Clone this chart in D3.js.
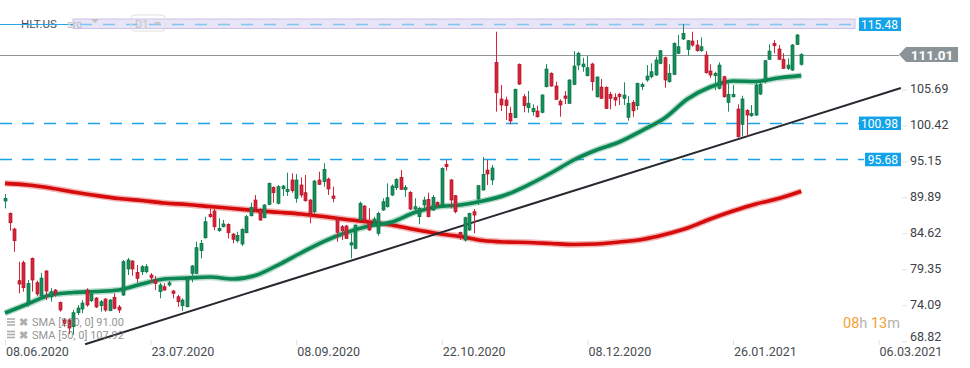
<!DOCTYPE html>
<html>
<head>
<meta charset="utf-8">
<script src="https://cdnjs.cloudflare.com/ajax/libs/d3/7.8.5/d3.min.js"></script>
<style>
  body { margin: 0; background: #fff; overflow: hidden; }
  text { font-family: Roboto, "Noto Sans", sans-serif; }
</style>
</head>
<body>
<div id="chart"></div>
<script>
// daily bars, HLT.US, 08.06.2020 -> 17.02.2021 (bar index 0..175)
var opens = [89.56,87.76,85.46,77.90,80.53,74.59,81.17,77.60,75.66,79.32,75.55,76.53,74.73,72.14,72.14,71.16,73.21,73.75,76.53,74.97,
  75.36,74.24,75.22,73.50,75.47,74.05,75.80,79.61,80.78,79.12,79.21,79.21,78.73,78.00,76.29,77.02,77.27,76.39,75.55,74.24,
  74.09,78.98,78.98,82.29,84.19,87.62,88.10,85.22,85.80,86.15,84.73,83.75,83.27,84.92,87.41,89.71,88.35,87.12,89.08,91.57,
  89.23,91.36,90.92,92.64,89.96,91.91,90.78,89.71,88.00,92.64,92.39,92.78,90.30,86.93,85.80,85.90,83.12,82.64,86.78,88.83,
  86.45,86.45,84.83,88.25,88.73,90.44,91.51,93.03,91.22,90.84,88.39,87.27,88.98,89.81,88.25,89.37,88.98,94.94,92.64,90.34,
  84.98,83.85,85.32,88.00,89.86,91.17,94.10,92.64,109.87,104.50,104.35,102.40,101.76,109.58,104.83,103.22,102.64,102.74,102.55,106.30,
  108.26,106.40,104.20,104.94,103.87,106.65,109.47,109.22,107.91,109.62,104.83,106.25,106.21,105.18,104.75,105.18,104.60,101.82,104.01,103.52,
  106.30,107.28,107.76,108.01,109.72,110.54,107.03,108.11,111.19,113.28,111.77,112.99,112.40,111.57,110.94,108.60,107.91,106.06,107.76,104.01,
  104.83,103.03,100.79,102.84,102.05,102.15,105.23,107.03,110.31,112.65,111.82,110.31,108.99,108.74,112.50,109.58];
var highs = [90.59,87.90,85.65,80.68,80.82,78.00,81.30,77.90,79.02,79.45,76.83,76.68,74.85,72.39,72.30,73.61,74.34,75.07,76.78,76.24,
  75.50,75.07,75.32,75.22,76.05,74.34,80.93,81.22,80.90,80.19,80.19,80.34,79.02,78.58,77.56,77.51,77.85,76.53,75.80,75.32,
  78.48,80.19,83.61,83.85,87.27,88.49,88.49,87.03,86.78,86.30,84.85,85.07,85.57,87.51,89.32,90.44,88.49,89.10,92.24,91.70,
  91.91,91.91,93.71,93.62,93.52,93.03,93.37,89.85,92.64,93.85,95.08,93.00,91.66,87.10,86.05,86.05,84.83,86.10,89.46,88.95,
  88.49,87.27,88.00,89.96,92.15,92.01,92.89,94.10,91.91,91.00,89.96,88.73,90.19,90.78,90.44,89.50,94.50,95.57,92.80,90.44,
  85.07,87.27,87.85,88.39,91.91,96.00,95.57,94.83,114.35,106.55,104.83,103.37,106.00,109.70,105.23,105.67,103.72,103.52,105.20,109.62,
  108.40,107.03,104.45,105.67,107.40,111.52,111.42,110.54,110.79,109.81,107.80,107.42,106.35,105.56,105.33,105.42,106.94,104.94,104.35,106.90,
  106.94,109.47,109.72,110.69,111.67,110.70,109.58,112.80,113.87,115.48,113.13,114.35,113.13,113.53,111.52,109.58,108.49,109.87,107.90,106.79,
  106.55,103.72,104.98,103.00,103.62,106.94,106.94,110.21,112.50,113.13,112.40,111.19,110.45,112.55,114.01,111.20];
var lows = [88.49,85.22,82.14,76.05,76.29,74.09,76.29,75.66,75.55,75.07,74.82,75.55,73.36,71.16,70.09,69.95,72.87,73.12,74.09,74.78,
  73.90,73.36,73.36,73.46,73.70,73.17,75.66,78.73,78.63,77.60,78.73,78.98,77.56,76.53,75.32,76.43,77.02,75.32,74.09,73.46,
  74.00,77.66,78.88,81.17,84.05,87.10,85.32,85.07,85.71,84.10,83.37,83.46,82.98,84.83,87.30,88.00,86.68,87.03,88.95,89.32,
  89.08,90.30,90.30,90.78,89.32,90.05,89.46,86.30,87.76,91.91,91.66,90.44,89.37,83.61,83.85,84.00,81.17,82.50,86.64,86.53,
  85.17,85.80,84.48,88.10,88.60,90.30,91.17,91.17,90.19,88.25,88.00,86.15,88.49,87.18,88.10,88.58,88.88,94.00,88.49,87.76,
  83.85,83.61,85.17,84.83,88.98,91.10,91.91,91.91,102.64,102.74,101.42,100.79,101.70,106.55,102.55,102.49,102.05,101.76,102.40,106.20,
  106.30,104.35,101.90,103.76,103.76,106.50,108.74,108.49,107.80,105.71,104.70,104.50,103.03,102.99,103.47,103.62,103.62,101.32,101.90,102.89,
  105.81,107.03,107.53,107.90,109.58,106.15,106.90,108.00,111.08,113.13,110.84,112.15,111.42,111.42,108.20,107.61,105.81,105.90,104.69,102.64,
  104.70,98.85,98.98,98.98,101.90,102.00,105.08,106.79,110.20,111.19,110.21,108.89,108.74,108.60,112.40,109.40];
var closes = [89.96,86.39,83.75,77.41,76.87,77.51,78.00,75.95,78.29,76.39,76.29,76.05,73.61,71.66,70.97,73.21,73.90,74.63,74.34,75.95,
  74.05,74.82,73.61,75.07,73.85,73.61,80.68,80.93,79.61,78.25,79.95,79.95,78.39,77.51,77.27,76.53,77.60,76.05,74.82,75.07,
  78.34,80.05,82.73,83.37,86.53,87.27,85.80,85.57,86.20,84.92,83.96,84.54,85.42,87.27,88.64,88.25,86.78,88.98,92.16,90.78,
  91.66,91.76,91.28,91.07,92.64,90.44,89.61,87.76,92.49,92.01,94.20,91.32,89.96,84.98,85.22,84.10,83.46,86.05,89.23,86.78,
  85.32,86.93,87.76,89.46,90.05,91.76,92.74,91.28,91.57,88.39,88.73,88.49,89.71,87.27,90.10,88.98,94.35,94.59,89.71,88.00,
  84.34,87.12,87.76,87.51,91.81,93.47,93.52,94.40,105.42,103.62,103.52,101.28,105.92,106.69,103.52,103.87,103.13,101.90,105.08,108.89,
  106.40,104.45,103.62,104.60,107.28,109.33,111.19,109.62,109.08,107.03,107.72,104.60,103.13,104.60,104.35,104.83,105.08,103.87,102.78,106.79,
  106.65,107.86,108.49,110.21,111.57,107.28,108.26,112.65,112.15,114.11,113.03,112.40,111.57,112.15,108.35,108.01,108.26,109.47,104.83,105.18,
  105.18,98.98,104.50,102.15,102.40,106.55,106.65,110.11,111.52,112.30,110.31,108.99,109.47,112.40,113.87,111.01];

// moving averages, read every 5th bar
var smaStep = 5;
var sma200 = [92.15,91.91,91.47,90.88,90.37,89.93,89.64,89.27,89.05,88.76,88.47,88.17,87.91,87.66,87.29,86.86,86.49,86.05,
  85.39,84.81,84.37,83.78,83.56,83.49,83.34,83.20,83.27,83.56,83.93,84.66,85.61,86.93,88.10,89.12,89.93,91.00];
var sma50 = [73.17,74.49,75.80,76.17,76.31,76.53,77.41,78.14,78.29,78.44,78.14,78.66,80.19,81.95,83.63,84.95,85.90,86.49,
  87.88,88.73,88.98,89.56,90.44,91.91,93.66,95.57,97.03,98.20,99.88,101.71,104.50,106.25,107.13,107.06,107.57,107.92];

var trendBars = [17.6, 196.9];
var trendValues = [68.6, 106.1];

var levelValues = [115.48, 100.98, 95.68];
var lastPrice = 111.01;
var priceTicks = [105.69, 100.42, 95.15, 89.89, 84.62, 79.35, 74.09, 68.82];
var dateTickBars = [0, 32, 64, 96, 128, 160, 192];
var dateTickLabels = ["08.06.2020", "23.07.2020", "08.09.2020", "22.10.2020", "08.12.2020", "26.01.2021", "06.03.2021"];

var width = 970, height = 368;
var bars = opens.map(function(o, i) {
  return { i: i, o: o, h: highs[i], l: lows[i], c: closes[i] };
});

var x = d3.scaleLinear().domain([0, 192]).range([5, 878.6]);
var y = d3.scaleLinear().domain([68.82, 115.48]).range([342.7, 24]);

var svg = d3.select("#chart").append("svg")
  .attr("width", width)
  .attr("height", height);

// max marker band at the top
svg.append("rect")
  .attr("x", 73).attr("y", y(115.48) - 5)
  .attr("width", 782).attr("height", 9.5)
  .attr("fill", "#e9e4f6")
  .attr("stroke", "#cbc1ea");

// last price line
svg.append("line")
  .attr("x1", 0).attr("x2", 899)
  .attr("y1", Math.round(y(lastPrice)) + 0.5).attr("y2", Math.round(y(lastPrice)) + 0.5)
  .attr("stroke", "#8d959a").attr("stroke-width", 1.2);

// dashed levels
levelValues.forEach(function(v, k) {
  var yy = Math.round(y(v)) + 0.5;
  if (k == 0) {
    svg.append("line").attr("x1", 0).attr("x2", 73).attr("y1", yy).attr("y2", yy)
      .attr("stroke", "#2aa6e6").attr("stroke-width", 1.2);
    svg.append("line").attr("x1", 80).attr("x2", 858).attr("y1", yy).attr("y2", yy)
      .attr("stroke", "#7fc6f0").attr("stroke-width", 1.5).attr("stroke-dasharray", "12,11");
  } else {
    svg.append("line").attr("x1", 0).attr("x2", 864).attr("y1", yy).attr("y2", yy)
      .attr("stroke", "#1ea3ea").attr("stroke-width", 1.5).attr("stroke-dasharray", "12,10");
  }
});

// moving averages
var smaLine = d3.line()
  .x(function(d, k) { return x(k * smaStep); })
  .y(function(d) { return y(d); })
  .curve(d3.curveMonotoneX);

[[sma200, "#d60b0b"], [sma50, "#0b8753"]].forEach(function(s) {
  svg.append("path").attr("d", smaLine(s[0]))
    .attr("fill", "none").attr("stroke", s[1]).attr("stroke-opacity", 0.3)
    .attr("stroke-width", 6.5);
  svg.append("path").attr("d", smaLine(s[0]))
    .attr("fill", "none").attr("stroke", s[1]).attr("stroke-width", 3.6);
});

// trend line
svg.append("line")
  .attr("x1", x(trendBars[0])).attr("y1", y(trendValues[0]))
  .attr("x2", x(trendBars[1])).attr("y2", y(trendValues[1]))
  .attr("stroke", "#262a30").attr("stroke-width", 2);

// candles
var up = "#15905c", upDark = "#0c6f45", down = "#dc2238", downDark = "#a9172a";
var candle = svg.append("g").selectAll("g").data(bars).enter().append("g");

candle.append("line")
  .attr("x1", function(d) { return Math.round(x(d.i)) + 0.5; })
  .attr("x2", function(d) { return Math.round(x(d.i)) + 0.5; })
  .attr("y1", function(d) { return y(d.h); })
  .attr("y2", function(d) { return y(d.l); })
  .attr("stroke", function(d) { return d.c >= d.o ? up : down; })
  .attr("stroke-width", 1);

candle.append("rect")
  .attr("x", function(d) { return Math.round(x(d.i)) - 1; })
  .attr("y", function(d) { return y(Math.max(d.o, d.c)); })
  .attr("width", 3)
  .attr("height", function(d) { return Math.max(1.5, Math.abs(y(d.o) - y(d.c))); })
  .attr("fill", function(d) { return d.c >= d.o ? up : down; })
  .attr("stroke", function(d) { return d.c >= d.o ? upDark : downDark; })
  .attr("stroke-width", 0.7);

// price axis
priceTicks.forEach(function(v) {
  var yy = Math.min(y(v), 338.5);
  svg.append("line").attr("x1", 902).attr("x2", 907).attr("y1", y(v) - 1).attr("y2", y(v) - 1)
    .attr("stroke", "#e2e2e2");
  svg.append("text").attr("x", 910).attr("y", yy + 2.5)
    .attr("font-size", 12.5).attr("fill", "#3d4247").text(v.toFixed(2));
});

// level labels
levelValues.forEach(function(v) {
  var w = v >= 100 ? 42 : 36;
  svg.append("rect").attr("x", 901 - w).attr("y", y(v) - 6.5)
    .attr("width", w).attr("height", 13.5).attr("fill", "#13a3ea");
  svg.append("text").attr("x", 898).attr("y", y(v) + 4.5)
    .attr("text-anchor", "end").attr("font-size", 12).attr("fill", "#fff")
    .text(v.toFixed(2));
});

// last price tag
var ly = y(lastPrice);
svg.append("path")
  .attr("d", "M899," + ly + "L906," + (ly - 7.5) + "L958," + (ly - 7.5) + "L958," + (ly + 7.5) + "L906," + (ly + 7.5) + "Z")
  .attr("fill", "#8a9397");
svg.append("text").attr("x", 932).attr("y", ly + 5)
  .attr("text-anchor", "middle").attr("font-size", 13.5).attr("font-weight", "bold")
  .attr("fill", "#fff").text(lastPrice.toFixed(2));

// date axis
dateTickBars.forEach(function(b, k) {
  svg.append("line").attr("x1", x(b) + 0.5).attr("x2", x(b) + 0.5).attr("y1", 340).attr("y2", 345)
    .attr("stroke", "#e0e0e0");
  svg.append("text").attr("x", x(b) + 1).attr("y", 355.5)
    .attr("font-size", 12.5).attr("fill", "#474c51").text(dateTickLabels[k]);
});

// countdown
var cd = svg.append("text").attr("x", 843).attr("y", 328).attr("font-size", 14.5);
cd.append("tspan").attr("fill", "#f6a132").text("08");
cd.append("tspan").attr("fill", "#b3b3b3").text("h ");
cd.append("tspan").attr("fill", "#f6a132").text("13");
cd.append("tspan").attr("fill", "#b3b3b3").text("m");

// legend
var legendRows = ["SMA [200, 0] 91.00", "SMA [50, 0] 107.92"];
legendRows.forEach(function(t, k) {
  var yy = 322 + k * 12.5;
  var g = svg.append("g").attr("opacity", 0.8);
  [-3, 0, 3].forEach(function(dy) {
    g.append("line").attr("x1", 7).attr("x2", 15).attr("y1", yy + dy).attr("y2", yy + dy)
      .attr("stroke", "#9a9a9a").attr("stroke-width", 1.6);
  });
  g.append("text").attr("x", 19).attr("y", yy + 4).attr("font-size", 10.5)
    .attr("font-weight", "bold").attr("fill", "#9a9a9a").text("✖");
  g.append("text").attr("x", 32).attr("y", yy + 4).attr("font-size", 11)
    .attr("fill", "#7b7b7b").text(t);
});

// header
svg.append("text").attr("x", 21).attr("y", 28).attr("font-size", 11.5)
  .attr("fill", "#4a5056").text("HLT.US");
svg.append("line").attr("x1", 2).attr("x2", 62).attr("y1", 24.5).attr("y2", 24.5)
  .attr("stroke", "#2aa6e6").attr("stroke-width", 1.2);
svg.append("text").attr("x", 67).attr("y", 28).attr("font-size", 11)
  .attr("fill", "#b5bac4").text("src");
svg.append("path").attr("d", "M91,19L99,19L95,23Z").attr("fill", "#c0c0c0");
svg.append("rect").attr("x", 131).attr("y", 15).attr("width", 34).attr("height", 16).attr("rx", 3)
  .attr("fill", "none").attr("stroke", "#e0e0e0");
svg.append("text").attr("x", 135).attr("y", 28).attr("font-size", 11)
  .attr("fill", "#c4c4c4").text("D1");
svg.append("path").attr("d", "M154,22L161,22L157.5,25.5Z").attr("fill", "#c4c4c4");
</script>
</body>
</html>
